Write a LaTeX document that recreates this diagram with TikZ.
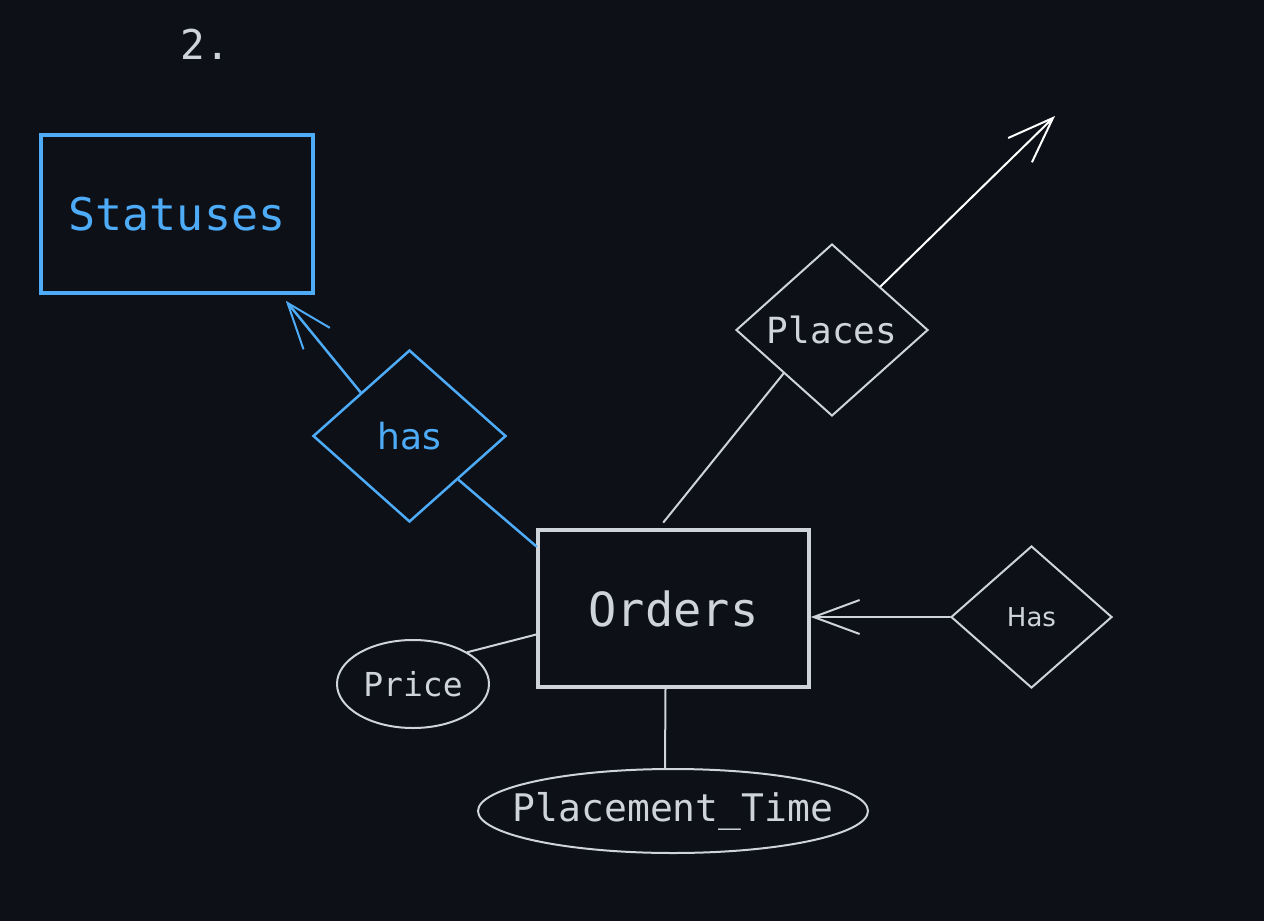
\documentclass[tikz,border=0pt]{standalone}
\usepackage{fontspec}
\setmonofont{DejaVu Sans Mono}
\newfontfamily\comicfont{DejaVu Sans}
\usetikzlibrary{shapes.geometric,arrows.meta}
\definecolor{bgc}{RGB}{13,16,23}
\definecolor{inkc}{RGB}{206,212,218}
\definecolor{bluec}{RGB}{77,171,247}
\tikzset{
  entbox/.style={draw, rectangle, inner sep=0pt, line width=3.5pt},
  reldia/.style={draw, diamond, inner sep=0pt, line width=2pt},
  attrell/.style={draw, ellipse, inner sep=0pt, line width=2pt},
  conn/.style={line width=2pt, line cap=round},
  barb/.style={-{Straight Barb[length=46pt,width=34pt,line width=2pt]}},
}
\begin{document}
\begin{tikzpicture}[x=1pt,y=-1pt]
\fill[bgc] (0,0) rectangle (1264,921);
\useasboundingbox (0,0) rectangle (1264,921);

\node[text=inkc, font=\ttfamily\fontsize{41}{41}\selectfont] (title) at (205,44) {2.};

\node[entbox, draw=bluec, text=bluec, minimum width=272pt, minimum height=158pt,
      font=\ttfamily\fontsize{45}{45}\selectfont] (stat) at (177,214) {Statuses};

\node[reldia, draw=bluec, line width=2.5pt, minimum width=193pt, minimum height=172pt,
      label={[text=bluec, font=\comicfont\fontsize{36}{36}\selectfont]center:has}] (has) at (409.5,436) {};

\node[entbox, draw=inkc, text=inkc, minimum width=271pt, minimum height=157pt,
      font=\ttfamily\fontsize{47}{47}\selectfont] (orders) at (673.5,608.5) {Orders};

\node[reldia, draw=inkc, minimum width=192pt, minimum height=172pt,
      label={[text=inkc, font=\ttfamily\fontsize{36}{36}\selectfont]center:Places}] (places) at (832,330) {};

\node[reldia, draw=inkc, minimum width=161pt, minimum height=142pt,
      label={[text=inkc, font=\comicfont\fontsize{26}{26}\selectfont]center:Has}] (has2) at (1031.5,617) {};

\node[attrell, draw=inkc, minimum width=152pt, minimum height=88pt,
      label={[text=inkc, font=\ttfamily\fontsize{33}{33}\selectfont]center:Price}] (price) at (413,684) {};

\node[attrell, draw=inkc, minimum width=390pt, minimum height=84pt,
      label={[text=inkc, font=\ttfamily\fontsize{38}{38}\selectfont]center:Placement\_Time}] (ptime) at (673,811) {};

\coordinate (placesend) at (1055,116);

% connectors
\draw[conn, barb, draw=bluec, line width=2.5pt] (has.north west) -- ([xshift=-29pt,yshift=-6pt]stat.south east);
\draw[conn, draw=bluec, line width=2.5pt] (has.south east) -- ([yshift=-18pt]orders.north west);
\draw[conn, draw=inkc] ([xshift=-10pt,yshift=6pt]orders.north) -- (places.south west);
\draw[conn, barb, draw=white] (places.north east) -- (placesend);
\draw[conn, barb, draw=inkc] (has2.west) -- (has2.west -| orders.east);
\draw[conn, draw=inkc] (price.north east) -- ([yshift=-26pt]orders.west);
\draw[conn, draw=inkc] ([xshift=-8pt]orders.south) -- ([xshift=-8pt]ptime.north);
\end{tikzpicture}
\end{document}
